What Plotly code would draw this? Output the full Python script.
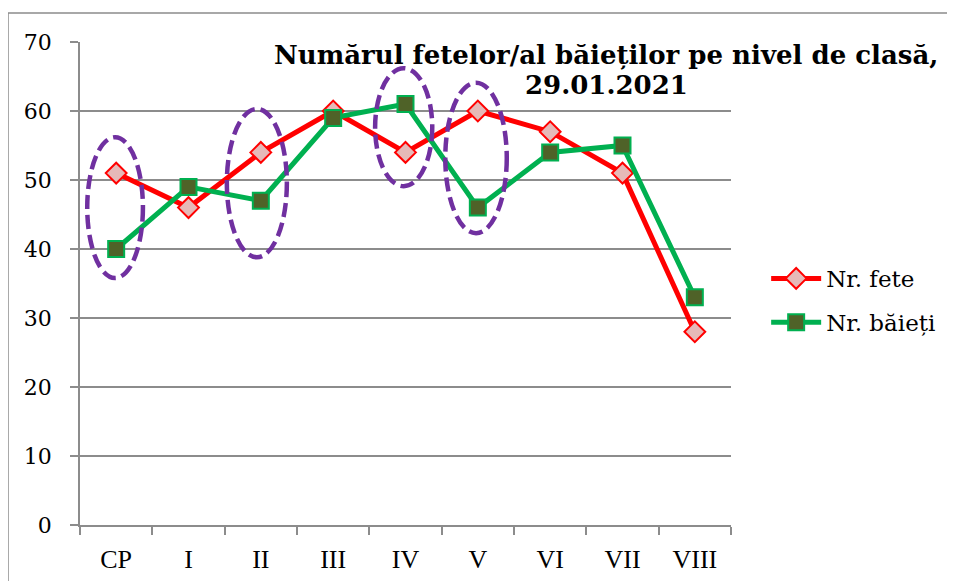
import plotly.graph_objects as go

categories = ["CP", "I", "II", "III", "IV", "V", "VI", "VII", "VIII"]
fete = [51, 46, 54, 60, 54, 60, 57, 51, 28]
baieti = [40, 49, 47, 59, 61, 46, 54, 55, 33]
y_ticks = [0, 10, 20, 30, 40, 50, 60, 70]

# highlighted groups (category index range, value range)
ellipses = [
    (-0.40, 0.37, 35.8, 56.2),
    (1.53, 2.36, 38.8, 60.3),
    (3.58, 4.37, 49.1, 66.2),
    (4.55, 5.40, 42.3, 64.1),
]

serif = "DejaVu Serif"
times = "Liberation Serif"

fig = go.Figure()
fig.add_trace(go.Scatter(
    x=list(range(len(categories))), y=fete, name="Nr. fete", mode="lines+markers",
    line=dict(color="#FF0000", width=5),
    marker=dict(symbol="diamond", size=16, color="#E6B9B8", line=dict(color="#FF0000", width=2)),
    legendgroup="a",
))
fig.add_trace(go.Scatter(
    x=list(range(len(categories))), y=baieti, name="Nr. băieți", mode="lines+markers",
    line=dict(color="#00B050", width=5),
    marker=dict(symbol="square", size=16, color="#4F6228", line=dict(color="#00B050", width=2)),
    legendgroup="b",
))

for x0, x1, y0, y1 in ellipses:
    fig.add_shape(type="circle", xref="x", yref="y", x0=x0, x1=x1, y0=y0, y1=y1,
                  line=dict(color="#7030A0", width=4.5, dash="14px,6px"), layer="above")

# outer frame
fig.add_shape(type="rect", xref="paper", yref="paper", x0=-0.1106, x1=2, y0=-1, y1=1.06,
              line=dict(color="#8C8C8C", width=1.5))

fig.add_annotation(
    text="<b>Numărul fetelor/al băieților pe nivel de clasă,</b>",
    xref="paper", yref="paper", x=0.808, y=0.973, xanchor="center", yanchor="middle",
    showarrow=False, font=dict(family=serif, size=26, color="#000000"),
)
fig.add_annotation(
    text="<b>29.01.2021</b>",
    xref="paper", yref="paper", x=0.808, y=0.911, xanchor="center", yanchor="middle",
    showarrow=False, font=dict(family=serif, size=26, color="#000000"),
)

fig.update_xaxes(
    type="category", tickson="boundaries", automargin=False,
    range=[-0.5, 8.5], tickmode="array", tickvals=list(range(len(categories))), ticktext=categories,
    showgrid=False, showline=True, linecolor="#8C8C8C", linewidth=1.5,
    ticks="outside", ticklen=8, tickcolor="#8C8C8C", tickwidth=1.5, ticklabelstandoff=10,
    tickfont=dict(family=times, size=26, color="#000000"), zeroline=False,
)
fig.update_yaxes(
    range=[0, 70], tickvals=y_ticks, showgrid=True, gridcolor="#8C8C8C", gridwidth=1.5,
    showline=True, linecolor="#8C8C8C", linewidth=1.5, automargin=False,
    ticks="outside", ticklen=8, tickcolor="#8C8C8C", tickwidth=1.5, ticklabelstandoff=14,
    tickfont=dict(family=serif, size=22, color="#000000"), zeroline=False,
)

fig.update_layout(
    width=947, height=573,
    margin=dict(l=72, r=224, t=34, b=56, autoexpand=False),
    paper_bgcolor="white", plot_bgcolor="white",
    showlegend=True,
    legend=dict(x=1.054, y=0.555, xanchor="left", yanchor="top", tracegroupgap=11, itemwidth=50,
                font=dict(family=serif, size=23, color="#000000"), bgcolor="rgba(0,0,0,0)"),
)

fig.write_html("out.html")
